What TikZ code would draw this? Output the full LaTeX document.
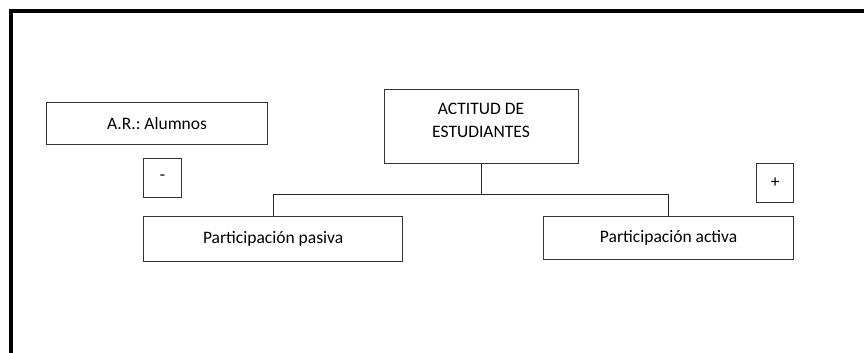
\documentclass[tikz,border=0pt]{standalone}
\usepackage{fontspec}
\setmainfont{Carlito}
\frenchspacing
\begin{document}
\begin{tikzpicture}[x=1pt,y=-1pt,
  box/.style={draw=black!80,line width=1.2pt,rectangle,inner sep=0pt,anchor=north west,
    font=\fontsize{17.5}{23}\selectfont,align=center},
  conn/.style={draw=black!85,line width=1pt},
  frame/.style={draw=black,line width=4pt}]
\useasboundingbox (0,0) rectangle (864,353);
\fill[white] (0,0) rectangle (864,353);
% frame (top and left sides)
\draw[frame] (10.5,353) -- (10.5,11) -- (864,11);
% boxes
\node[box,minimum width=221pt,minimum height=42pt] (ar) at (46,102) {A.R.: Alumnos};
\node[box,minimum width=38pt,minimum height=39pt] (minus) at (143,158) {-};
\node[box,minimum width=194pt,minimum height=74pt] (top) at (384,89) {};
\node[font=\fontsize{17.5}{23}\selectfont,align=center,inner sep=0pt] (toptxt) at (481,120) {ACTITUD DE\\ESTUDIANTES};
\node[box,minimum width=37pt,minimum height=39pt] (plus) at (756,163) {+};
\node[box,minimum width=259pt,minimum height=45pt] (pas) at (143,216) {Participación pasiva};
\node[box,minimum width=250pt,minimum height=43pt] (act) at (543,216) {Participación activa};
% connectors
\draw[conn] (top.south) -- ++(0,30) coordinate (bus);
\draw[conn] (pas.north) |- (bus);
\draw[conn] (act.north) |- (bus);
\end{tikzpicture}
\end{document}
